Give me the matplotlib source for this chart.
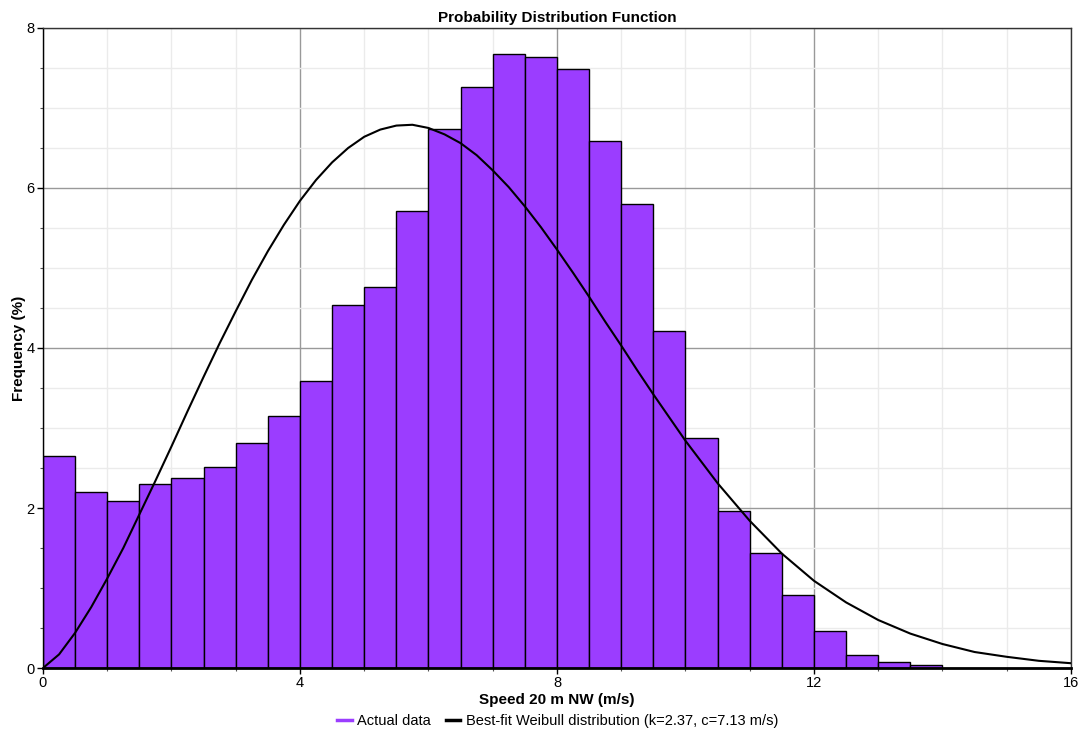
import matplotlib
matplotlib.use("Agg")
import matplotlib.pyplot as plt
from matplotlib.ticker import MultipleLocator
from matplotlib.lines import Line2D

plt.rcParams['font.family'] = ['Liberation Sans', 'DejaVu Sans']

# Histogram bins (left edges, width 0.5 m/s) and frequencies (%)
bin_left = [0.0, 0.5, 1.0, 1.5, 2.0, 2.5, 3.0, 3.5, 4.0, 4.5, 5.0, 5.5, 6.0, 6.5,
            7.0, 7.5, 8.0, 8.5, 9.0, 9.5, 10.0, 10.5, 11.0, 11.5, 12.0, 12.5, 13.0, 13.5]
freq = [2.65, 2.20, 2.09, 2.30, 2.37, 2.51, 2.81, 3.15, 3.59, 4.54, 4.76, 5.71, 6.74, 7.26,
        7.67, 7.64, 7.49, 6.59, 5.80, 4.21, 2.87, 1.96, 1.44, 0.91, 0.46, 0.16, 0.075, 0.04]
bin_width = 0.5

# Best-fit Weibull curve
curve_x = [0.0, 0.25, 0.5, 0.75, 1.0, 1.25, 1.5, 1.75, 2.0, 2.25, 2.5, 2.75, 3.0, 3.25,
           3.5, 3.75, 4.0, 4.25, 4.5, 4.75, 5.0, 5.25, 5.5, 5.75, 6.0, 6.25, 6.5, 6.75,
           7.0, 7.25, 7.5, 7.75, 8.0, 8.25, 8.5, 8.75, 9.0, 9.25, 9.5, 9.75, 10.0,
           10.5, 11.0, 11.5, 12.0, 12.5, 13.0, 13.5, 14.0, 14.5, 15.0, 15.5, 16.0]
curve_y = [0.0, 0.17, 0.44, 0.76, 1.12, 1.50, 1.92, 2.34, 2.77, 3.21, 3.64, 4.06, 4.46, 4.85,
           5.21, 5.54, 5.84, 6.10, 6.32, 6.50, 6.64, 6.73, 6.78, 6.79, 6.75, 6.67, 6.56, 6.41,
           6.22, 6.01, 5.77, 5.51, 5.23, 4.94, 4.64, 4.33, 4.03, 3.72, 3.42, 3.13, 2.84,
           2.31, 1.84, 1.43, 1.09, 0.82, 0.60, 0.43, 0.30, 0.20, 0.14, 0.09, 0.06]

title = "Probability Distribution Function"
xlabel = "Speed 20 m NW (m/s)"
ylabel = "Frequency (%)"
label_bars = "Actual data"
label_curve = "Best-fit Weibull distribution (k=2.37, c=7.13 m/s)"

bar_color = '#9B3DFF'

fig = plt.figure(figsize=(10.83, 7.34), dpi=100)
ax = fig.add_axes([0.0397, 0.0899, 0.9492, 0.8720])

ax.bar(bin_left, freq, width=bin_width, align='edge', color=bar_color,
       edgecolor='black', linewidth=1.0, zorder=2)
ax.plot(curve_x, curve_y, color='black', linewidth=1.5, zorder=3)

ax.set_xlim(0, 16)
ax.set_ylim(0, 8)
ax.xaxis.set_major_locator(MultipleLocator(4))
ax.xaxis.set_minor_locator(MultipleLocator(1))
ax.yaxis.set_major_locator(MultipleLocator(2))
ax.yaxis.set_minor_locator(MultipleLocator(0.5))

ax.grid(which='major', color='#999999', linewidth=1.0, zorder=0)
ax.grid(which='minor', color='#ebebeb', linewidth=1.0, zorder=0)
ax.set_axisbelow(True)

ax.tick_params(which='major', length=4, width=1, labelsize=10.5, pad=2)
ax.tick_params(which='minor', length=2.5, width=0.8, color='#555555')

for s in ['top', 'right']:
    ax.spines[s].set_color('#333333')
    ax.spines[s].set_linewidth(1.0)
ax.spines['left'].set_linewidth(1.0)
ax.spines['bottom'].set_linewidth(2.0)

ax.set_title(title, fontsize=11, fontweight='bold', pad=4)
ax.set_xlabel(xlabel, fontsize=11, fontweight='bold', labelpad=2)
ax.set_ylabel(ylabel, fontsize=11, fontweight='bold', labelpad=0)

handles = [Line2D([0], [0], color=bar_color, linewidth=2.5),
           Line2D([0], [0], color='black', linewidth=2.5)]
fig.legend(handles, [label_bars, label_curve], loc='lower center',
           bbox_to_anchor=(0.515, -0.01), ncol=2, frameon=False, fontsize=10.5,
           handlelength=1.0, handletextpad=0.4, columnspacing=1.0)

fig.savefig("out.png", dpi=100)
